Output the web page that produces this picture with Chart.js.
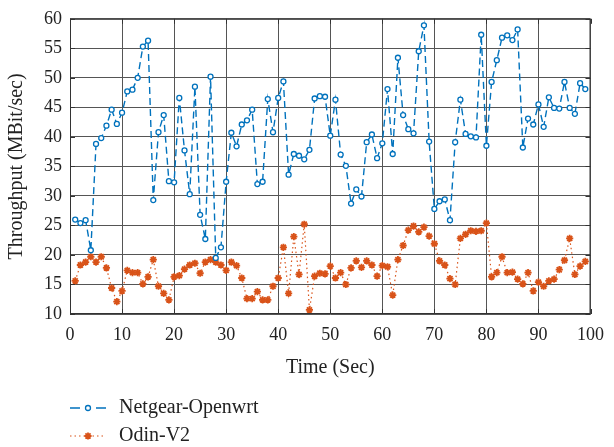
<!DOCTYPE html>
<html>
<head>
<meta charset="utf-8">
<script src="https://cdn.jsdelivr.net/npm/chart.js@4.4.1/dist/chart.umd.min.js"></script>
<style>
  html, body { margin: 0; padding: 0; background: #fff; }
  #wrap { width: 614px; height: 447px; }
</style>
</head>
<body>
<div id="wrap"><canvas id="chart" width="614" height="447"></canvas></div>
<script>
const timeSec = [
  1, 2, 3, 4, 5, 6, 7, 8, 9, 10, 11, 12, 13, 14, 15, 16, 17, 18, 19, 20,
  21, 22, 23, 24, 25, 26, 27, 28, 29, 30, 31, 32, 33, 34, 35, 36, 37, 38, 39, 40,
  41, 42, 43, 44, 45, 46, 47, 48, 49, 50, 51, 52, 53, 54, 55, 56, 57, 58, 59, 60,
  61, 62, 63, 64, 65, 66, 67, 68, 69, 70, 71, 72, 73, 74, 75, 76, 77, 78, 79, 80,
  81, 82, 83, 84, 85, 86, 87, 88, 89, 90, 91, 92, 93, 94, 95, 96, 97, 98, 99
];

const netgearOpenwrt = [
  26.0, 25.4, 25.9, 20.8, 38.8, 39.8, 41.9, 44.6, 42.2, 44.1,
  47.7, 48.0, 50.0, 55.3, 56.3, 29.3, 40.8, 43.7, 32.5, 32.3,
  46.6, 37.7, 30.3, 48.5, 26.8, 22.7, 50.2, 19.5, 21.3, 32.4,
  40.7, 38.4, 42.1, 42.8, 44.6, 32.0, 32.4, 46.4, 40.8, 46.6,
  49.4, 33.6, 37.1, 36.8, 36.2, 37.8, 46.5, 46.9, 46.8, 40.2,
  46.3, 37.0, 35.1, 28.7, 31.1, 29.9, 39.1, 40.4, 36.4, 38.9,
  48.1, 37.1, 53.4, 43.7, 41.3, 40.6, 54.5, 58.9, 39.2, 27.8,
  29.1, 29.4, 25.9, 39.1, 46.3, 40.5, 40.1, 39.9, 57.3, 38.5,
  49.3, 53.0, 56.8, 57.2, 56.4, 58.2, 38.2, 43.1, 42.1, 45.5,
  41.7, 46.7, 44.9, 44.8, 49.3, 44.9, 43.9, 49.1, 48.1
];

const odinV2 = [
  15.6, 18.3, 18.8, 19.7, 18.8, 19.7, 17.8, 14.4, 12.1, 13.9,
  17.4, 17.0, 17.0, 15.1, 16.3, 19.2, 14.7, 13.5, 12.4, 16.3,
  16.5, 17.6, 18.3, 18.6, 16.9, 18.8, 19.2, 18.8, 18.3, 17.4,
  18.8, 18.2, 16.1, 12.6, 12.6, 13.8, 12.4, 12.4, 14.7, 16.1,
  21.3, 13.5, 23.1, 16.7, 25.2, 10.7, 16.4, 16.9, 16.8, 18.1,
  16.1, 17.0, 15.0, 17.8, 19.0, 17.9, 19.0, 18.3, 16.4, 18.2,
  18.0, 13.2, 19.2, 21.6, 24.2, 24.9, 23.9, 24.7, 23.2, 21.9,
  19.0, 18.3, 16.0, 15.0, 22.8, 23.5, 24.1, 24.0, 24.1, 25.4,
  16.3, 17.0, 19.7, 17.0, 17.1, 15.9, 15.1, 17.0, 13.9, 15.4,
  14.7, 15.6, 15.9, 17.5, 19.1, 22.8, 16.7, 18.1, 18.9
];

const xTicks = [0, 10, 20, 30, 40, 50, 60, 70, 80, 90, 100];
const yTicks = [10, 15, 20, 25, 30, 35, 40, 45, 50, 55, 60];

const BLUE = 'rgb(0,114,189)';
const ORANGE = 'rgb(217,83,25)';
const FONT = "'Liberation Serif', 'DejaVu Serif', serif";

// box on all four sides + inward ticks (matlab style)
const boxTicks = {
  id: 'boxTicks',
  afterDraw(chart) {
    const { ctx, chartArea: a, scales } = chart;
    ctx.save();
    ctx.strokeStyle = '#333';
    ctx.lineWidth = 1;
    ctx.setLineDash([]);
    ctx.strokeRect(a.left + 0.5, a.top + 0.5, a.right - a.left - 1, a.bottom - a.top - 1);
    ctx.beginPath();
    xTicks.forEach(v => {
      const px = Math.round(scales.x.getPixelForValue(v)) + 0.5;
      ctx.moveTo(px, a.bottom); ctx.lineTo(px, a.bottom - 5);
      ctx.moveTo(px, a.top); ctx.lineTo(px, a.top + 5);
    });
    yTicks.forEach(v => {
      const py = Math.round(scales.y.getPixelForValue(v)) + 0.5;
      ctx.moveTo(a.left, py); ctx.lineTo(a.left + 5, py);
      ctx.moveTo(a.right, py); ctx.lineTo(a.right - 5, py);
    });
    ctx.stroke();
    ctx.restore();
  }
};

// legend below the axis: line sample with marker, then label
const bottomLegend = {
  id: 'bottomLegend',
  afterDraw(chart) {
    const { ctx } = chart;
    const rows = [408, 436];
    ctx.save();
    chart.data.datasets.forEach((ds, i) => {
      const y = rows[i];
      ctx.strokeStyle = ds.borderColor;
      ctx.lineWidth = ds.borderWidth;
      ctx.beginPath();
      if (i === 0) {
        ctx.setLineDash([]);
        ctx.moveTo(70, y); ctx.lineTo(80, y);
        ctx.moveTo(96, y); ctx.lineTo(106, y);
      } else {
        ctx.setLineDash(ds.borderDash);
        ctx.moveTo(70, y); ctx.lineTo(106, y);
      }
      ctx.stroke();
      ctx.setLineDash([]);
      ctx.fillStyle = ds.pointBackgroundColor;
      ctx.strokeStyle = ds.pointBorderColor;
      ctx.lineWidth = ds.pointBorderWidth;
      Chart.helpers.drawPoint(ctx, {
        pointStyle: ds.pointStyle,
        radius: ds.pointRadius,
        rotation: 0,
        borderWidth: ds.pointBorderWidth
      }, 88, y);
      ctx.fillStyle = '#222';
      ctx.font = '20px ' + FONT;
      ctx.textBaseline = 'middle';
      ctx.fillText(ds.label, 119, y);
    });
    ctx.restore();
  }
};

const ctx = document.getElementById('chart').getContext('2d');
new Chart(ctx, {
  type: 'line',
  data: {
    datasets: [
      {
        label: 'Netgear-Openwrt',
        data: timeSec.map((t, i) => ({ x: t, y: netgearOpenwrt[i] })),
        borderColor: BLUE,
        backgroundColor: '#fff',
        borderWidth: 1.4,
        borderDash: [7, 4],
        pointStyle: 'circle',
        pointRadius: 2.5,
        pointBorderWidth: 1.3,
        pointBorderColor: BLUE,
        pointBackgroundColor: '#fff',
        tension: 0
      },
      {
        label: 'Odin-V2',
        data: timeSec.map((t, i) => ({ x: t, y: odinV2[i] })),
        borderColor: ORANGE,
        backgroundColor: ORANGE,
        borderWidth: 1.2,
        borderDash: [1.5, 3],
        pointStyle: 'star',
        pointRadius: 3.6,
        pointBorderWidth: 1.8,
        pointBorderColor: ORANGE,
        pointBackgroundColor: ORANGE,
        tension: 0
      }
    ]
  },
  options: {
    responsive: false,
    animation: false,
    devicePixelRatio: 1,
    layout: { padding: { top: 17, right: 14, left: 0, bottom: 0 } },
    plugins: {
      legend: { display: false },
      tooltip: { enabled: false }
    },
    scales: {
      x: {
        type: 'linear',
        min: 0,
        max: 100,
        afterFit: s => { s.height = 133; },
        afterBuildTicks: s => { s.ticks = xTicks.map(v => ({ value: v })); },
        ticks: { color: '#222', font: { family: FONT, size: 18 }, padding: 10, maxRotation: 0 },
        grid: { color: '#555', lineWidth: 1, borderDash: [1, 9], drawTicks: false },
        border: { display: false },
        title: { display: true, text: 'Time (Sec)', color: '#222', font: { family: FONT, size: 20 }, padding: { top: 0, bottom: 67 } }
      },
      y: {
        min: 10,
        max: 60,
        afterFit: s => { s.width = 70; },
        afterBuildTicks: s => { s.ticks = yTicks.map(v => ({ value: v })); },
        ticks: { color: '#222', font: { family: FONT, size: 18 }, padding: 8 },
        grid: { color: '#555', lineWidth: 1, borderDash: [1, 9], drawTicks: false },
        border: { display: false },
        title: { display: true, text: 'Throughput (MBit/sec)', color: '#222', font: { family: FONT, size: 20 }, padding: { top: 5, bottom: 0 } }
      }
    }
  },
  plugins: [boxTicks, bottomLegend]
});
</script>
</body>
</html>
